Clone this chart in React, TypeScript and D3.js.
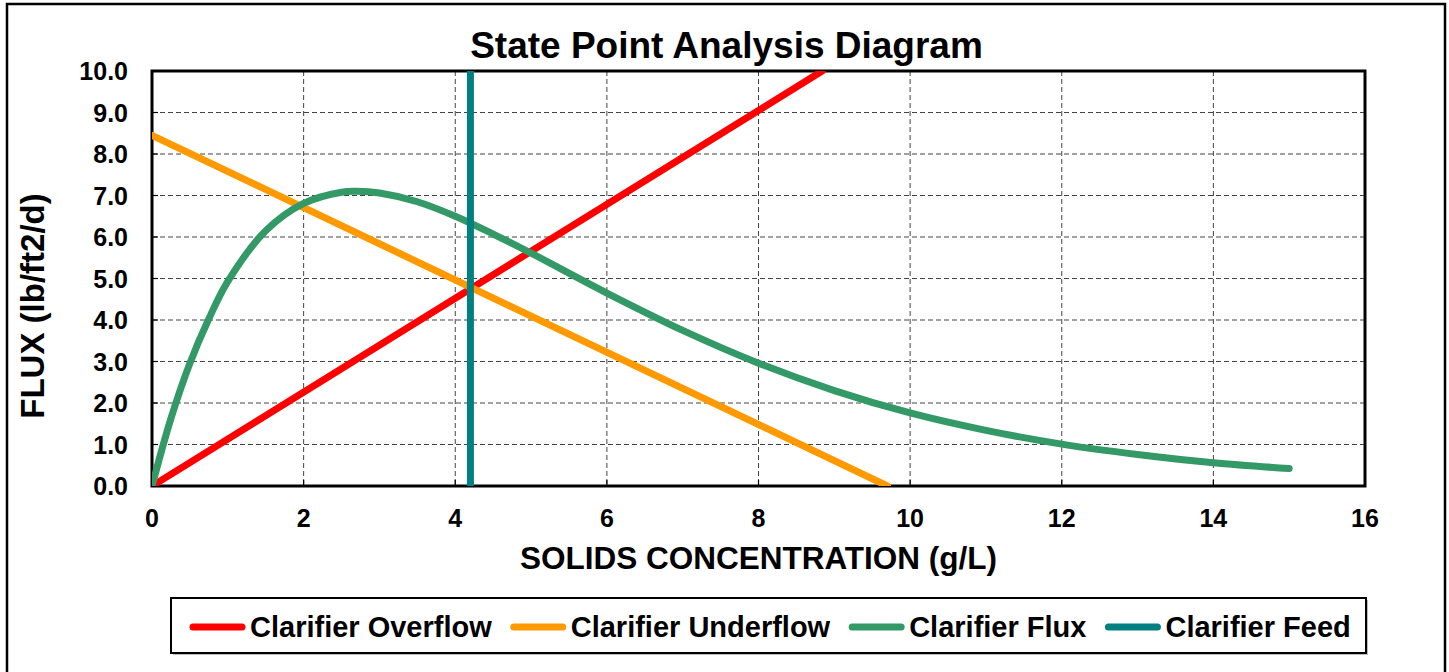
import React from "react";
import * as d3 from "d3";

const overflowX = [0, 8.84];
const overflowY = [0, 10];
const underflowX = [0, 9.7];
const underflowY = [8.45, 0];
const fluxX = [0, 0.25, 0.5, 0.75, 1, 1.5, 2, 2.5, 2.7, 3, 3.5, 4, 4.5, 5, 6, 7, 8, 9, 10, 11, 12, 13, 14, 15];
const fluxY = [0, 1.63, 2.96, 4.03, 4.93, 6.15, 6.81, 7.08, 7.1, 7.06, 6.85, 6.5, 6.07, 5.61, 4.65, 3.75, 2.96, 2.3, 1.76, 1.34, 1.01, 0.76, 0.56, 0.42];
const feedX = [4.2, 4.2];
const feedY = [0, 10];

const xTicks = [0, 2, 4, 6, 8, 10, 12, 14, 16];
const yTicks = [0, 1, 2, 3, 4, 5, 6, 7, 8, 9, 10];

const seriesNames = ["Clarifier Overflow", "Clarifier Underflow", "Clarifier Flux", "Clarifier Feed"];
const seriesColors = ["#FF0000", "#FF9900", "#339966", "#008080"];

const FONT = '"Liberation Sans", Arial, Helvetica, sans-serif';

function measure(text: string, size: number) {
  const c = document.createElement("canvas").getContext("2d");
  if (!c) return text.length * size * 0.55;
  c.font = `bold ${size}px ${FONT}`;
  return c.measureText(text).width;
}

export default function App() {
  const W = 1449, H = 672;
  const L = 152, R = 1365, T = 71, B = 486;
  const x = d3.scaleLinear().domain([0, 16]).range([L, R]);
  const y = d3.scaleLinear().domain([0, 10]).range([B, T]);

  const line = d3.line<[number, number]>().x(d => x(d[0])).y(d => y(d[1]));
  const curve = d3.line<[number, number]>().x(d => x(d[0])).y(d => y(d[1])).curve(d3.curveCatmullRom.alpha(0.5));

  const zip = (a: number[], b: number[]) => a.map((v, i) => [v, b[i]] as [number, number]);
  const paths = [
    line(zip(overflowX, overflowY)),
    line(zip(underflowX, underflowY)),
    curve(zip(fluxX, fluxY)),
    line(zip(feedX, feedY)),
  ];

  const legSize = 29;
  let cx = 190;
  const legItems = seriesNames.map((n, i) => {
    const item = { x: cx, name: n, color: seriesColors[i] };
    cx += 55 + 5 + measure(n, legSize) + 19;
    return item;
  });

  return (
    <svg width={W} height={H} style={{ position: "absolute", left: 0, top: 0, background: "#fff" }} fontFamily={FONT}>
      <defs>
        <clipPath id="plotClip">
          <rect x={L} y={T} width={R - L} height={B - T} />
        </clipPath>
      </defs>
      <rect x={0} y={0} width={W} height={H} fill="#fff" />
      <path d={`M7,${H + 5} V4 H1445 V${H + 5}`} fill="none" stroke="#000" strokeWidth={2.5} />

      <text x={726.5} y={58} textAnchor="middle" fontWeight="bold" fontSize={37} fill="#000">
        State Point Analysis Diagram
      </text>

      {yTicks.filter(t => t > 0 && t < 10).map(t => (
        <line key={"gy" + t} x1={L} x2={R} y1={y(t)} y2={y(t)} stroke="#444" strokeWidth={1} strokeDasharray="5,3" />
      ))}
      {xTicks.filter(t => t > 0 && t < 16).map(t => (
        <line key={"gx" + t} x1={x(t)} x2={x(t)} y1={T} y2={B} stroke="#444" strokeWidth={1} strokeDasharray="5,3" />
      ))}
      {yTicks.map(t => (
        <line key={"ty" + t} x1={L} x2={L + 6} y1={y(t)} y2={y(t)} stroke="#000" strokeWidth={1.2} />
      ))}
      {xTicks.map(t => (
        <line key={"tx" + t} x1={x(t)} x2={x(t)} y1={B} y2={B - 6} stroke="#000" strokeWidth={1.2} />
      ))}

      <rect x={L} y={T} width={R - L} height={B - T} fill="none" stroke="#000" strokeWidth={3} />

      <g clipPath="url(#plotClip)">
        {paths.map((d, i) => (
          <path key={i} d={d || ""} fill="none" stroke={seriesColors[i]} strokeWidth={7} strokeLinecap="round" strokeLinejoin="round" />
        ))}
      </g>

      {yTicks.map(t => (
        <text key={"ly" + t} x={128} y={y(t)} dy="0.36em" textAnchor="end" fontWeight="bold" fontSize={25} fill="#000">
          {t.toFixed(1)}
        </text>
      ))}
      {xTicks.map(t => (
        <text key={"lx" + t} x={x(t)} y={527} textAnchor="middle" fontWeight="bold" fontSize={25} fill="#000">
          {t}
        </text>
      ))}

      <text x={(L + R) / 2} y={569} textAnchor="middle" fontWeight="bold" fontSize={31.5} fill="#000">
        SOLIDS CONCENTRATION (g/L)
      </text>
      <text transform={`translate(44,306) rotate(-90)`} textAnchor="middle" fontWeight="bold" fontSize={33} fill="#000">
        FLUX (lb/ft2/d)
      </text>

      <rect x={173} y={600} width={1195} height={55} fill="#bbb" />
      <rect x={171} y={598} width={1195} height={55} fill="#fff" stroke="#000" strokeWidth={2} />
      {legItems.map((it, i) => (
        <g key={"lg" + i}>
          <line x1={it.x + 3} x2={it.x + 52} y1={627} y2={627} stroke={it.color} strokeWidth={7} strokeLinecap="round" />
          <text x={it.x + 60} y={637} fontWeight="bold" fontSize={legSize} fill="#000">
            {it.name}
          </text>
        </g>
      ))}
    </svg>
  );
}
